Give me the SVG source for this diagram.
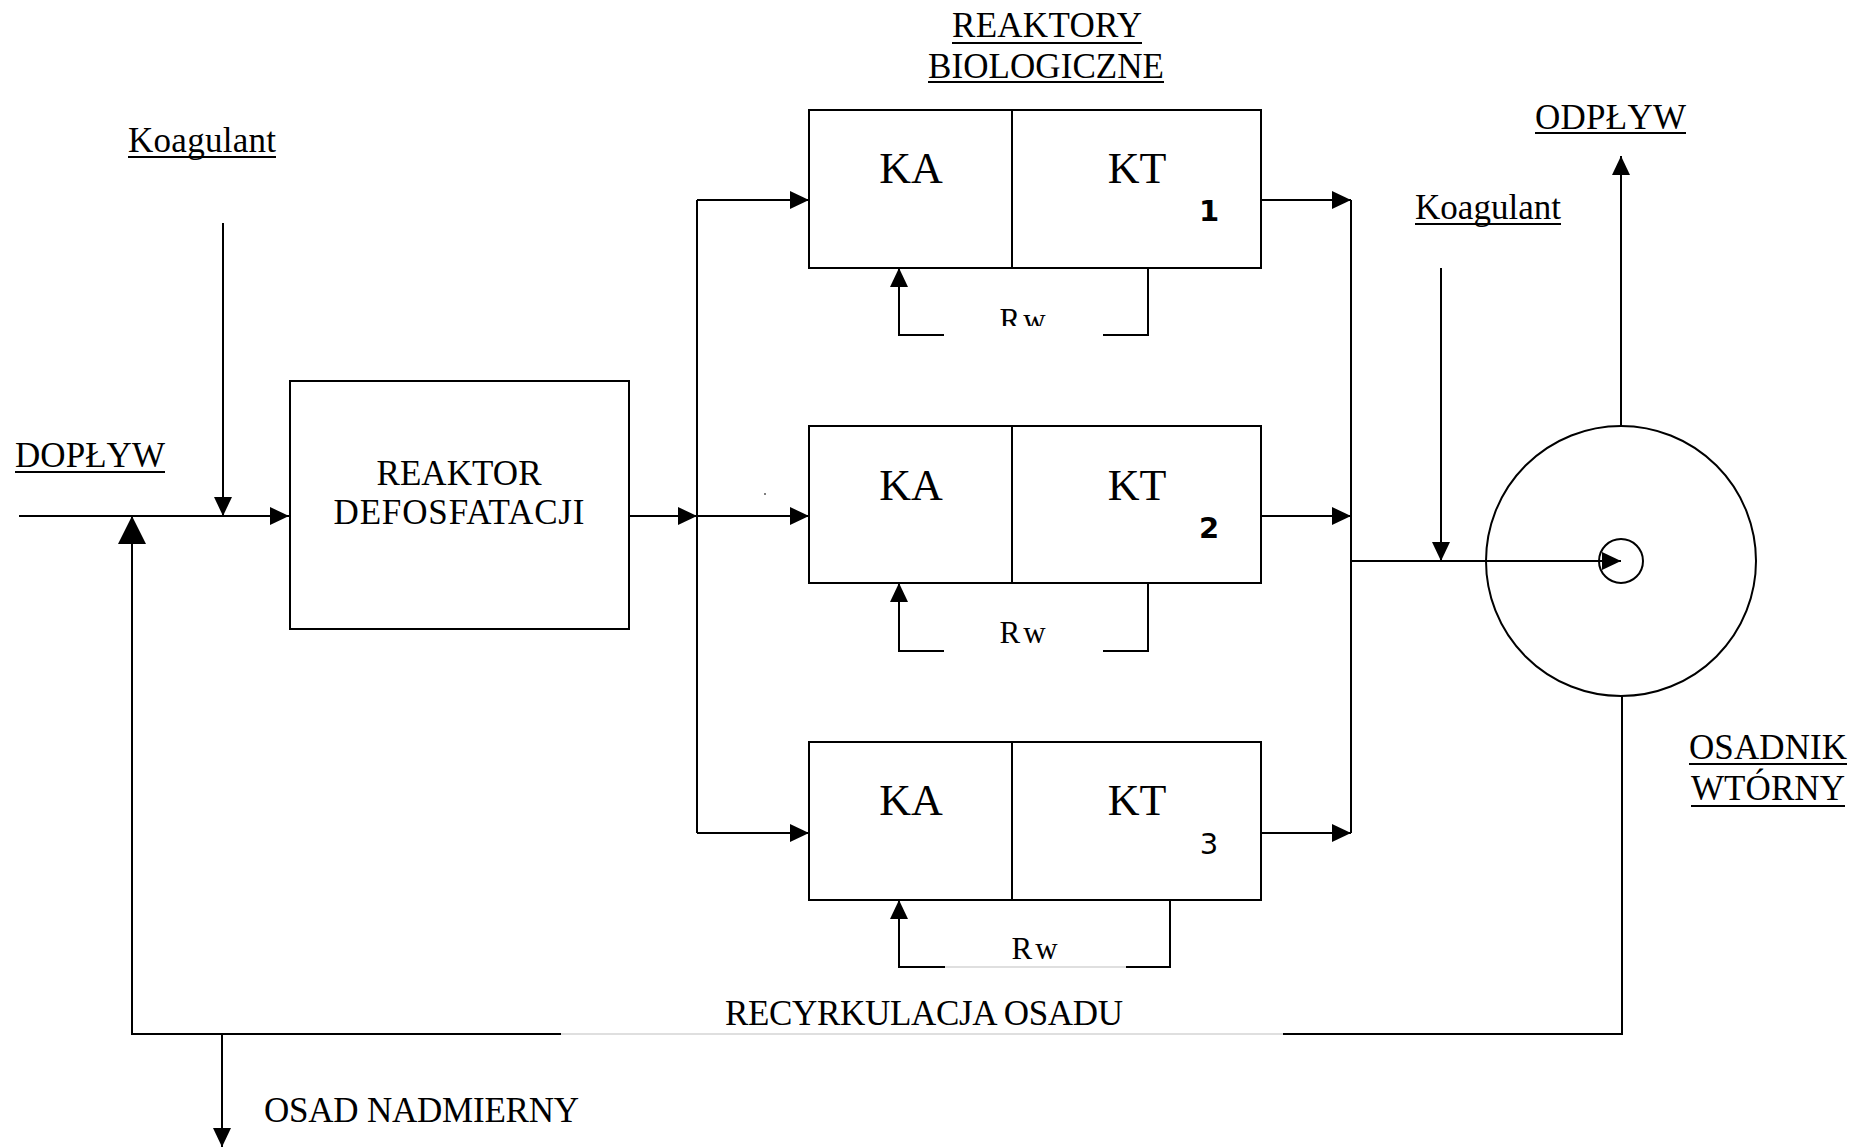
<svg xmlns="http://www.w3.org/2000/svg" width="1849" height="1148" viewBox="0 0 1849 1148">
<style>
.ln{fill:none;stroke:#000;stroke-width:2}
.gap{fill:none;stroke:#d4d4d4;stroke-width:1.5}
.box{fill:#fff;stroke:#000;stroke-width:2}
.ser{font-family:"Liberation Serif","Times New Roman",serif;fill:#000}
.lbl{font-size:35px}
.big{font-size:44px;text-anchor:middle}
.mid{font-size:35px;text-anchor:middle}
.num{font-family:"DejaVu Sans",sans-serif;font-size:29px;text-anchor:middle;fill:#000}
.ul{stroke:#000;stroke-width:2}
</style>
<defs>
<marker id="a" viewBox="0 0 19 18" refX="19" refY="9" markerWidth="19" markerHeight="18" markerUnits="userSpaceOnUse" orient="auto"><path d="M0,0 L19,9 L0,18 Z" fill="#000"/></marker>
<marker id="ab" viewBox="0 0 28 28" refX="28" refY="14" markerWidth="28" markerHeight="28" markerUnits="userSpaceOnUse" orient="auto"><path d="M0,0 L28,14 L0,28 Z" fill="#000"/></marker>
<clipPath id="c1"><rect x="980" y="290" width="90" height="36"/></clipPath>
</defs>

<g id="connectors">
<path class="ln" d="M19,516 H289" marker-end="url(#a)"/>
<path class="ln" d="M223,223 V516" marker-end="url(#a)"/>
<path class="ln" d="M1622,696 V1034 H1283"/>
<path class="gap" d="M1283,1034 H561"/>
<path class="ln" d="M561,1034 H132 V516" marker-end="url(#ab)"/>
<path class="ln" d="M222,1034 V1147" marker-end="url(#a)"/>
<path class="ln" d="M629,516 H697" marker-end="url(#a)"/>
<path class="ln" d="M697,200 V833"/>
<path class="ln" d="M697,200 H809" marker-end="url(#a)"/>
<path class="ln" d="M697,516 H809" marker-end="url(#a)"/>
<path class="ln" d="M697,833 H809" marker-end="url(#a)"/>
<path class="ln" d="M1261,200 H1351" marker-end="url(#a)"/>
<path class="ln" d="M1261,516 H1351" marker-end="url(#a)"/>
<path class="ln" d="M1261,833 H1351" marker-end="url(#a)"/>
<path class="ln" d="M1351,200 V833"/>
<path class="ln" d="M1351,561 H1621" marker-end="url(#a)"/>
<path class="ln" d="M1441,268 V561" marker-end="url(#a)"/>
<path class="ln" d="M1621,426 V156" marker-end="url(#a)"/>
<path class="ln" d="M1148,268 V335 H1103"/>
<path class="ln" d="M944,335 H899 V268" marker-end="url(#a)"/>
<path class="ln" d="M1148,583 V651 H1103"/>
<path class="ln" d="M944,651 H899 V583" marker-end="url(#a)"/>
<path class="ln" d="M1170,900 V967 H1126"/>
<path class="gap" d="M1126,967 H945"/>
<path class="ln" d="M945,967 H899 V900" marker-end="url(#a)"/>
<circle cx="765" cy="494" r="1" fill="#555"/>
</g>

<g id="reaktor-defosfatacji">
<rect class="box" x="290" y="381" width="339" height="248"/>
<text class="ser mid" x="459" y="485" textLength="165">REAKTOR</text>
<text class="ser mid" x="459" y="524" textLength="251">DEFOSFATACJI</text>
</g>

<g id="reaktor-1">
<rect class="box" x="809" y="110" width="452" height="158"/>
<line class="ln" x1="1012" y1="110" x2="1012" y2="268"/>
<text class="ser big" x="911" y="183">KA</text>
<text class="ser big" x="1137" y="183">KT</text>
<text class="num" x="1209" y="221" font-weight="bold">1</text>
<text class="ser" x="1024" y="330" font-size="31" text-anchor="middle" letter-spacing="3" clip-path="url(#c1)">Rw</text>
</g>

<g id="reaktor-2">
<rect class="box" x="809" y="426" width="452" height="157"/>
<line class="ln" x1="1012" y1="426" x2="1012" y2="583"/>
<text class="ser big" x="911" y="500">KA</text>
<text class="ser big" x="1137" y="500">KT</text>
<text class="num" x="1209" y="538" font-weight="bold">2</text>
<text class="ser" x="1024" y="643" font-size="31" text-anchor="middle" letter-spacing="3">Rw</text>
</g>

<g id="reaktor-3">
<rect class="box" x="809" y="742" width="452" height="158"/>
<line class="ln" x1="1012" y1="742" x2="1012" y2="900"/>
<text class="ser big" x="911" y="815">KA</text>
<text class="ser big" x="1137" y="815">KT</text>
<text class="num" x="1209" y="854">3</text>
<text class="ser" x="1036" y="959" font-size="31" text-anchor="middle" letter-spacing="3">Rw</text>
</g>

<g id="osadnik-wtorny">
<circle class="ln" cx="1621" cy="561" r="135"/>
<circle class="ln" cx="1621" cy="561" r="22"/>
</g>

<g id="labels">
<text class="ser lbl" x="128" y="152" textLength="148">Koagulant</text>
<line class="ul" x1="128" y1="157" x2="276" y2="157"/>
<text class="ser lbl" x="15" y="467" textLength="150">DOPŁYW</text>
<line class="ul" x1="15" y1="472" x2="165" y2="472"/>
<text class="ser lbl" x="952" y="37" textLength="190">REAKTORY</text>
<line class="ul" x1="952" y1="43" x2="1142" y2="43"/>
<text class="ser lbl" x="928" y="78" textLength="236">BIOLOGICZNE</text>
<line class="ul" x1="928" y1="82" x2="1164" y2="82"/>
<text class="ser lbl" x="1535" y="129" textLength="151">ODPŁYW</text>
<line class="ul" x1="1535" y1="133" x2="1686" y2="133"/>
<text class="ser lbl" x="1415" y="219" textLength="146">Koagulant</text>
<line class="ul" x1="1415" y1="224" x2="1561" y2="224"/>
<text class="ser lbl" x="1689" y="759" textLength="158">OSADNIK</text>
<line class="ul" x1="1689" y1="764" x2="1847" y2="764"/>
<text class="ser lbl" x="1691" y="800" textLength="154">WTÓRNY</text>
<line class="ul" x1="1691" y1="806" x2="1845" y2="806"/>
<text class="ser lbl" x="725" y="1025" textLength="398">RECYRKULACJA OSADU</text>
<text class="ser lbl" x="264" y="1122" textLength="315">OSAD NADMIERNY</text>
</g>
</svg>
